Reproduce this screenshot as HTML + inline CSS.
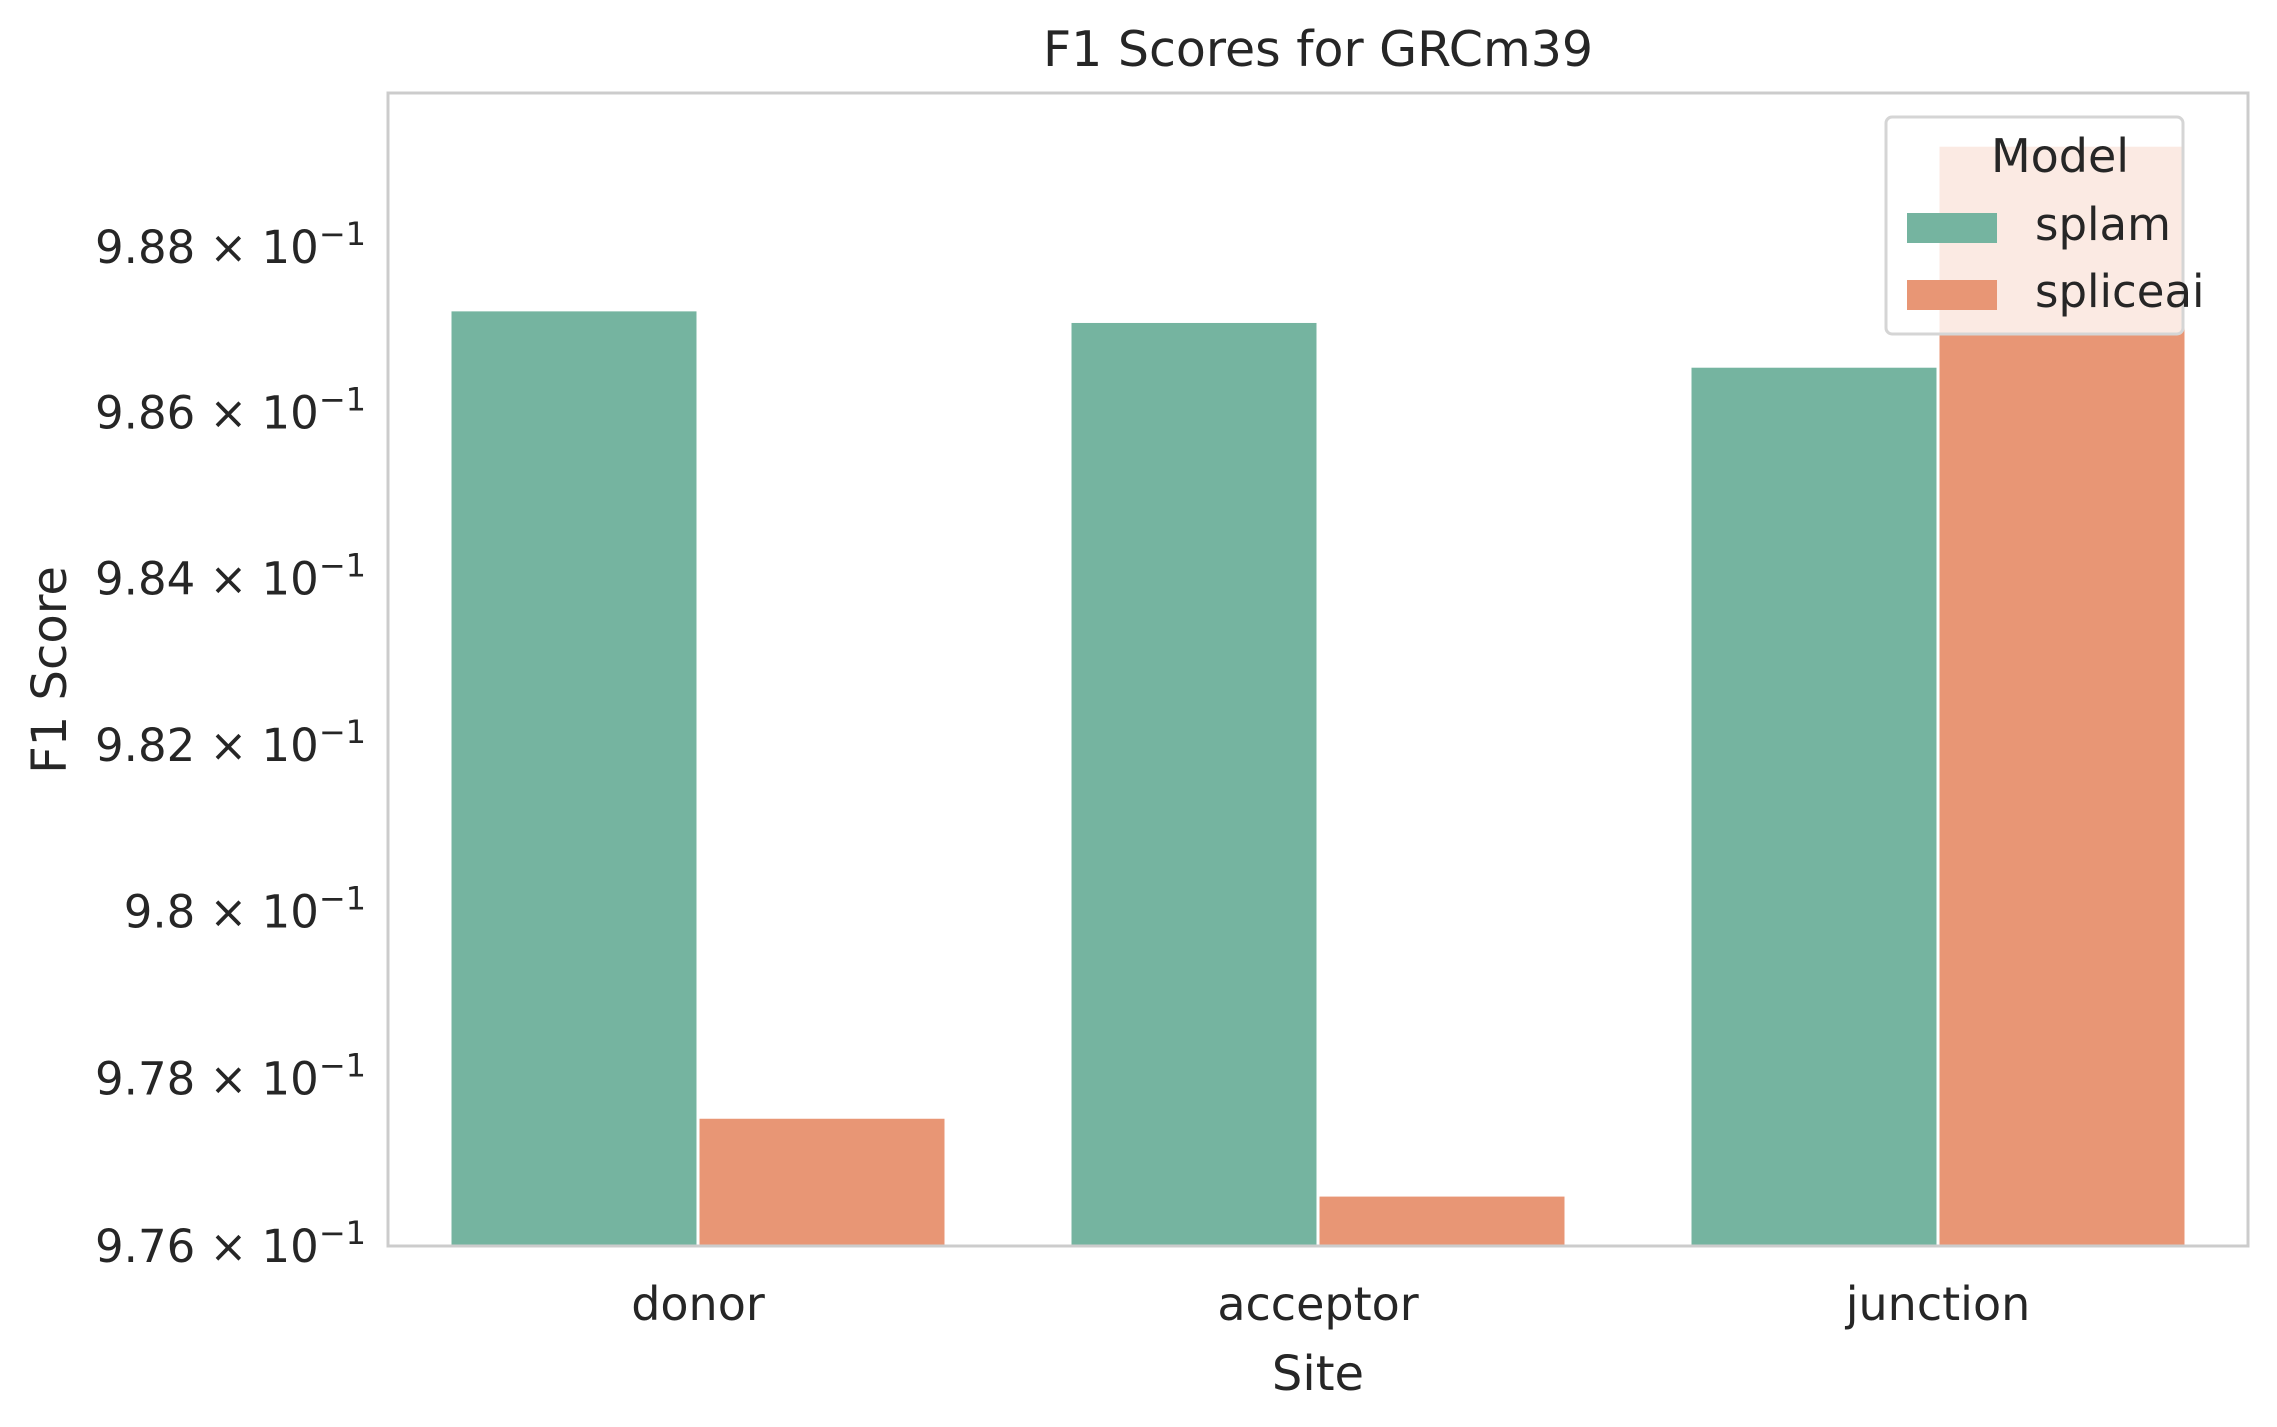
<!DOCTYPE html>
<html><head><meta charset="utf-8"><style>
html,body{margin:0;padding:0;background:#fff;}
svg{display:block;font-family:"DejaVu Sans","Liberation Sans",sans-serif;}
</style></head><body>
<svg id="chart" width="2277" height="1427" viewBox="0 0 2277 1427" xmlns="http://www.w3.org/2000/svg">
<rect width="2277" height="1427" fill="#fff"/>
<text x="1318" y="66" text-anchor="middle" font-size="49" fill="#262626">F1 Scores for GRCm39</text>
<g id="bars"></g>
<g id="yticks"></g>
<g id="xticks"></g>
<rect x="388" y="93" width="1860" height="1153" fill="none" stroke="#cccccc" stroke-width="3"/>
<text transform="translate(66,670) rotate(-90)" text-anchor="middle" font-size="48" fill="#262626">F1 Score</text>
<text x="1318" y="1390" text-anchor="middle" font-size="48" fill="#262626">Site</text>
<g>
<rect x="1886" y="117" width="297" height="217" rx="6" fill="#fff" fill-opacity="0.8" stroke="#d5d5d5" stroke-width="3"/>
<text x="2060" y="172" text-anchor="middle" font-size="46" fill="#262626">Model</text>
<rect x="1907" y="213" width="90" height="30" fill="#75b4a0"/>
<text x="2035" y="240" font-size="45" fill="#262626">splam</text>
<rect x="1907" y="280" width="90" height="30" fill="#e89675"/>
<text x="2035" y="307" font-size="45" fill="#262626">spliceai</text>
</g>
</svg>
<script>
const categories = ["donor", "acceptor", "junction"];
const seriesNames = ["splam", "spliceai"];
const splamValues = [0.98722, 0.98708, 0.98654];
const spliceaiValues = [0.97752, 0.97659, 0.98921];
const yTicks = [0.976, 0.978, 0.980, 0.982, 0.984, 0.986, 0.988];
const yTickLabels = ["9.76", "9.78", "9.8", "9.82", "9.84", "9.86", "9.88"];

const NS = "http://www.w3.org/2000/svg";
const L = 388, R = 2248, T = 93, B = 1246;
const yMin = 0.976, yMax = 0.98986;
function y(v){ return B - (Math.log(v) - Math.log(yMin)) / (Math.log(yMax) - Math.log(yMin)) * (B - T); }
const band = (R - L) / categories.length;
function xc(i){ return L + band * (i + 0.5); }
const colors = ["#75b4a0", "#e89675"];
const series = [splamValues, spliceaiValues];
const barsG = document.getElementById("bars");
const groupW = band * 0.8, barW = groupW / 2;
series.forEach((vals, s) => {
  vals.forEach((v, i) => {
    const r = document.createElementNS(NS, "rect");
    const x0 = xc(i) - groupW / 2 + s * barW;
    r.setAttribute("x", x0 + 1.5);
    r.setAttribute("width", barW - 3);
    r.setAttribute("y", y(v));
    r.setAttribute("height", B - y(v));
    r.setAttribute("fill", colors[s]);
    
    
    barsG.appendChild(r);
  });
});
const yg = document.getElementById("yticks");
yTicks.forEach((t, k) => {
  const tx = document.createElementNS(NS, "text");
  tx.setAttribute("x", 366);
  tx.setAttribute("y", y(t) + 16);
  tx.setAttribute("text-anchor", "end");
  tx.setAttribute("font-size", "45");
  tx.setAttribute("fill", "#262626");
  
  
  tx.innerHTML = yTickLabels[k] + " \u00d7 10<tspan font-size='32' dy='-18'>\u22121</tspan>";
  yg.appendChild(tx);
});
const xg = document.getElementById("xticks");
categories.forEach((c, i) => {
  const tx = document.createElementNS(NS, "text");
  tx.setAttribute("x", xc(i));
  tx.setAttribute("y", 1320);
  tx.setAttribute("text-anchor", "middle");
  tx.setAttribute("font-size", "46");
  tx.setAttribute("fill", "#262626");
  
  
  tx.textContent = c;
  xg.appendChild(tx);
});
</script>
</body></html>
